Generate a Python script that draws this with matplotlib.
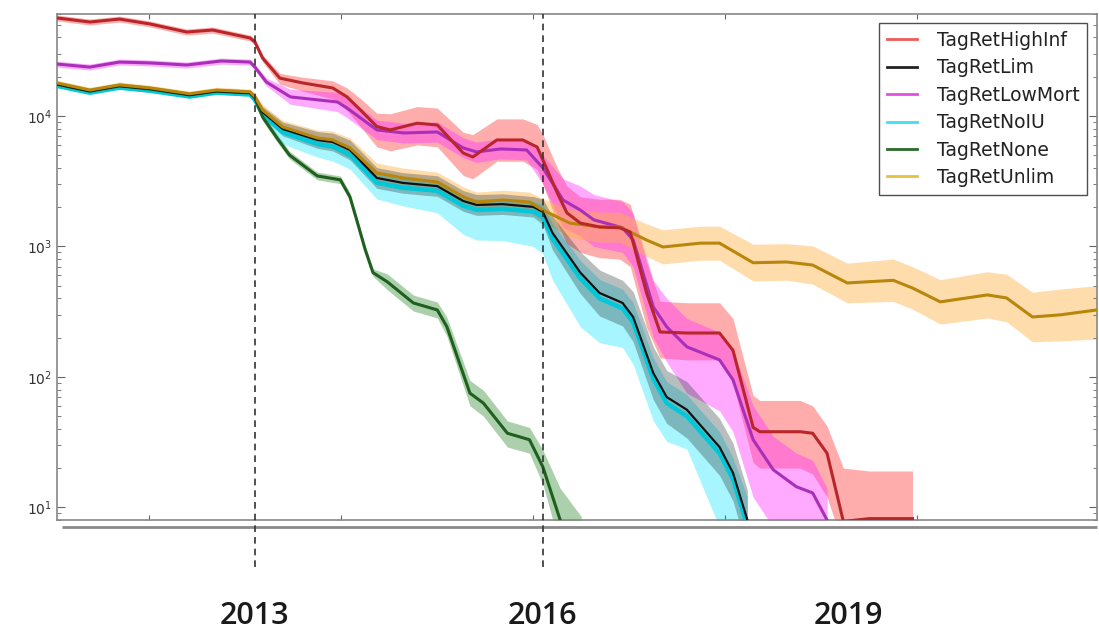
import matplotlib
matplotlib.use("Agg")
import matplotlib.pyplot as plt
from matplotlib.lines import Line2D
import numpy as np

# ---- data ----
names = ["TagRetHighInf", "TagRetLim", "TagRetLowMort", "TagRetNoIU", "TagRetNone", "TagRetUnlim"]

high_x = [2010.94, 2011.28, 2011.59, 2011.91, 2012.29, 2012.56, 2012.95, 2013.00, 2013.08, 2013.26,
          2013.50, 2013.81, 2013.96, 2014.10, 2014.27, 2014.41, 2014.69, 2014.90, 2015.17, 2015.27,
          2015.52, 2015.79, 2015.94, 2016.00, 2016.15, 2016.25, 2016.39, 2016.59, 2016.80, 2016.91,
          2017.08, 2017.22, 2017.50, 2017.84, 2017.98, 2018.19, 2018.26, 2018.68, 2018.81, 2018.96,
          2019.13, 2019.40, 2019.85]
high_mid = [56400, 52500, 55300, 50700, 44000, 45600, 39600, 36900, 27800, 19500,
            17900, 16400, 14000, 11100, 8300, 7820, 8800, 8530, 5200, 4850,
            6550, 6550, 5780, 4600, 2570, 1810, 1510, 1410, 1390, 1290,
            440, 221, 217, 217, 160, 41, 38, 38, 37, 26,
            7.8, 8.2, 8.2]
high_hi = [59400, 55300, 58300, 53400, 46400, 48100, 41700, 39000, 29500, 21200,
           19800, 18600, 16400, 13600, 10500, 10400, 11800, 11500, 7500, 7200,
           9500, 9500, 8600, 7200, 4000, 2900, 2400, 2300, 2300, 2100,
           760, 380, 370, 370, 280, 72, 66, 66, 60, 42,
           20, 19, 19]
high_lo = [53500, 49800, 52500, 48100, 41700, 43200, 37600, 35000, 26000, 17500,
           15500, 13500, 11000, 8300, 5800, 5400, 6000, 5800, 3500, 3300,
           4500, 4500, 3900, 3000, 1500, 1050, 900, 820, 800, 700,
           240, 140, 135, 135, 90, 22, 20, 20, 18, 12,
           5, 5, 5]

low_x = [2010.94, 2011.28, 2011.59, 2011.91, 2012.29, 2012.65, 2012.95, 2013.00, 2013.12, 2013.37,
         2013.86, 2013.96, 2014.27, 2014.55, 2014.90, 2015.17, 2015.31, 2015.56, 2015.83, 2016.00,
         2016.21, 2016.39, 2016.53, 2016.83, 2016.94, 2017.15, 2017.29, 2017.50, 2017.84, 2017.98,
         2018.19, 2018.40, 2018.64, 2018.81, 2018.96]
low_mid = [25000, 23700, 25900, 25500, 24600, 26400, 25900, 23700, 18200, 14000,
           12800, 11500, 7820, 7410, 7540, 5690, 5300, 5590, 5490, 4000,
           2270, 1900, 1600, 1390, 1120, 344, 242, 170, 135, 95,
           33, 19.4, 14.4, 12.9, 8.0]
low_hi = [26300, 25000, 27300, 26900, 25900, 27800, 27300, 25000, 19500, 16000,
          15200, 13700, 9300, 8800, 9000, 6800, 6300, 6700, 6500, 5000,
          3300, 2900, 2500, 2200, 1800, 550, 400, 280, 220, 160,
          60, 35, 26, 23, 14]
low_lo = [23700, 22500, 24600, 24200, 23300, 25000, 24600, 22500, 17000, 12300,
          10800, 9700, 6600, 6200, 6300, 4800, 4400, 4700, 4600, 3000,
          1400, 1200, 1000, 900, 700, 200, 130, 75, 55, 38,
          12, 7, 5, 5, 4]

unlim_x = [2010.94, 2011.28, 2011.59, 2011.91, 2012.32, 2012.60, 2012.95, 2013.00, 2013.08, 2013.29,
           2013.65, 2013.81, 2013.99, 2014.27, 2014.54, 2014.90, 2015.17, 2015.31, 2015.58, 2015.86,
           2016.00, 2016.28, 2016.59, 2016.80, 2017.08, 2017.25, 2017.64, 2017.84, 2018.19, 2018.54,
           2018.81, 2019.17, 2019.65, 2019.85, 2020.14, 2020.63, 2020.83, 2021.10, 2021.39, 2021.77]
unlim_mid = [17900, 15800, 17300, 16400, 14800, 15800, 15300, 14000, 11100, 8240,
             6780, 6550, 5690, 3660, 3350, 3120, 2400, 2190, 2270, 2190,
             1900, 1510, 1410, 1410, 1120, 990, 1060, 1060, 750, 760,
             720, 525, 550, 480, 376, 425, 403, 288, 299, 326]
unlim_hi = [18800, 16600, 18200, 17200, 15500, 16600, 16100, 15000, 12200, 9230,
            7800, 7660, 6770, 4360, 3990, 3710, 2860, 2610, 2700, 2610,
            2320, 1930, 1830, 1830, 1490, 1340, 1430, 1430, 1040, 1050,
            1010, 745, 800, 700, 556, 640, 613, 446, 472, 500]
unlim_lo = [17000, 15000, 16500, 15600, 14100, 15000, 14600, 13100, 10100, 7360,
            5900, 5600, 4780, 3080, 2820, 2620, 2020, 1840, 1910, 1840,
            1560, 1180, 1080, 1080, 840, 733, 785, 785, 543, 551,
            514, 370, 379, 331, 254, 283, 265, 186, 189, 195]

lim_x = [2010.94, 2011.28, 2011.59, 2011.91, 2012.32, 2012.60, 2012.95, 2013.00, 2013.08, 2013.29,
         2013.65, 2013.81, 2013.99, 2014.27, 2014.54, 2014.90, 2015.17, 2015.31, 2015.58, 2015.90,
         2016.00, 2016.10, 2016.39, 2016.59, 2016.83, 2016.94, 2017.15, 2017.29, 2017.50, 2017.84,
         2017.98, 2018.13]
lim_mid = [17500, 15500, 17000, 16100, 14500, 15500, 15000, 13700, 10700, 7950,
           6550, 6320, 5490, 3350, 3070, 2900, 2230, 2080, 2110, 2010,
           1840, 1270, 630, 440, 369, 288, 107, 70, 56, 29,
           18.4, 8.0]
lim_hi = [18400, 16300, 17900, 16900, 15200, 16300, 15800, 14700, 11800, 8980,
          7600, 7390, 6530, 4020, 3680, 3480, 2680, 2500, 2530, 2410,
          2300, 1710, 910, 660, 550, 450, 170, 112, 92, 48,
          31, 13.6]
lim_lo = [16700, 14800, 16200, 15300, 13800, 14800, 14300, 12800, 9700, 7040,
          5650, 5400, 4610, 2790, 2560, 2420, 1860, 1730, 1760, 1680,
          1470, 940, 435, 293, 246, 186, 67, 44, 34, 17.6,
          11.2, 4.7]

noiu_mid = [17000, 15100, 16500, 15600, 14100, 15100, 14600, 13300, 10300, 7500,
            6100, 5850, 5050, 3080, 2820, 2670, 2050, 1910, 1940, 1850,
            1690, 1150, 570, 400, 335, 262, 97, 63, 50, 26,
            16.5, 7.2]
noiu_hi = [17900, 15900, 17300, 16400, 14800, 15900, 15300, 14300, 11300, 8400,
           6900, 6700, 5900, 3700, 3400, 3200, 2460, 2300, 2330, 2220,
           2100, 1500, 780, 560, 470, 370, 140, 92, 73, 38,
           24, 12]
noiu_lo = [16500, 14600, 16000, 15200, 13700, 14600, 14200, 12700, 9300, 6100,
           4850, 4510, 3920, 2310, 2050, 1810, 1240, 1120, 1110, 1000,
           876, 552, 242, 183, 168, 125, 46, 32, 28, 7,
           4, 2]

none_x = [2010.94, 2011.28, 2011.59, 2011.91, 2012.32, 2012.60, 2012.95, 2013.00, 2013.08, 2013.23,
          2013.36, 2013.65, 2013.89, 2013.99, 2014.06, 2014.15, 2014.23, 2014.38, 2014.65, 2014.90,
          2015.00, 2015.24, 2015.38, 2015.63, 2015.86, 2016.00, 2016.18, 2016.40]
none_mid = [17500, 15500, 17000, 16100, 14500, 15500, 15000, 13700, 9820, 6780,
            5020, 3470, 3240, 2400, 1600, 940, 630, 535, 369, 326,
            242, 75, 63, 37, 33, 20.4, 8.0, 4.0]
none_hi = [18200, 16100, 17700, 16700, 15100, 16100, 15600, 14400, 10500, 7250,
           5370, 3710, 3470, 2570, 1710, 1010, 674, 615, 424, 375,
           286, 94, 79, 46, 41, 27.5, 14, 8.5]
none_lo = [16800, 14900, 16300, 15500, 13900, 14900, 14400, 13000, 9200, 6340,
           4690, 3240, 3030, 2240, 1500, 880, 590, 465, 320, 283,
           205, 60, 50, 29, 26, 15, 5, 2]

event_years = [2013, 2016]
year_labels = ["2013", "2016", "2019"]
year_label_x = [2013.0, 2016.0, 2019.18]

# ---- figure ----
fig = plt.figure(figsize=(10.99, 6.33), dpi=100)
ax = fig.add_axes([0.052, 0.1785, 0.946, 0.7994])

band_style = [
    (high_x, high_lo, high_hi, "#ff5a5a", 0.5),
    (low_x, low_lo, low_hi, "#ff33ff", 0.42),
    (unlim_x, unlim_lo, unlim_hi, "#ffb347", 0.45),
    (lim_x, noiu_lo, noiu_hi, "#00e5ff", 0.35),
    (lim_x, lim_lo, lim_hi, "#2a3a3a", 0.33),
    (none_x, none_lo, none_hi, "#2e8b2e", 0.4),
]
for x, lo, hi, c, a in band_style:
    ax.fill_between(x, lo, hi, color=c, alpha=a, lw=0, zorder=1)

ax.plot(lim_x, noiu_mid, color="#00c8d8", lw=3.2, zorder=3)
ax.plot(lim_x, lim_mid, color="#111111", lw=1.6, zorder=4)
ax.plot(unlim_x, unlim_mid, color="#b8860b", lw=2.2, zorder=5)
ax.plot(none_x, none_mid, color="#1f5f1f", lw=2.2, zorder=3)
ax.plot(low_x, low_mid, color="#a830b8", lw=2.2, zorder=4)
ax.plot(high_x, high_mid, color="#b8262a", lw=2.2, zorder=5)

ax.set_yscale("log")
ax.set_ylim(8.0, 60500)
ax.set_xlim(2010.94, 2021.77)
ax.set_xticks([2011.9, 2013.9, 2015.9, 2017.9, 2019.9])
ax.set_xticklabels([])
ax.tick_params(axis="both", which="both", direction="in", top=True, right=True,
               colors="#666666", labelcolor="#333333", labelsize=10)
ax.tick_params(axis="y", which="major", length=6)
ax.tick_params(axis="y", which="minor", length=3)
for s in ax.spines.values():
    s.set_color("#888888")
    s.set_linewidth(1.2)

# dashed event lines and year labels under the plot
for yr in event_years:
    ax.axvline(yr, ymin=-0.092, ymax=1.0, color="#333333", lw=1.2,
               ls=(0, (4, 3)), clip_on=False, zorder=6)
ax.plot([0.005, 1.0], [-0.014, -0.014], transform=ax.transAxes, color="#8a8a8a",
        lw=2, clip_on=False, solid_capstyle="butt")
for lab, xv in zip(year_labels, year_label_x):
    ax.text(xv, -0.19, lab, transform=ax.get_xaxis_transform(), ha="center", va="center",
            fontsize=22, fontweight="semibold", color="#1a1a1a",
            family=["Open Sans", "DejaVu Sans"])

legend_colors = ["#f05a5a", "#222222", "#e050e0", "#40e0f0", "#2a6a2a", "#e8c040"]
handles = [Line2D([], [], color=c, lw=2) for c in legend_colors]
leg = ax.legend(handles, names, loc="upper right", fontsize=13.5, frameon=True,
                fancybox=False, handlelength=1.6, handletextpad=1.1, labelspacing=0.45,
                borderaxespad=0.5, borderpad=0.4)
leg.get_frame().set_edgecolor("#222222")
leg.get_frame().set_linewidth(1.0)
for t in leg.get_texts():
    t.set_color("#222222")

fig.savefig("out.png", dpi=100, facecolor="white")
